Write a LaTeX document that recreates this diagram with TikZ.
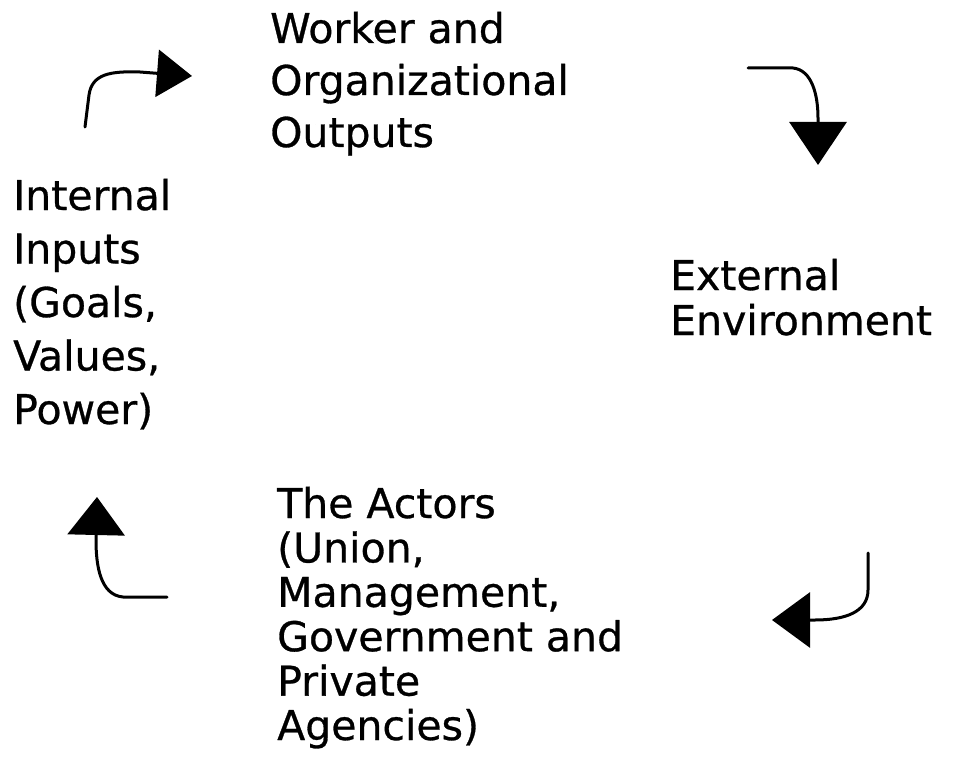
\documentclass[tikz,border=0pt]{standalone}
\usepackage{fontspec}
\setmainfont{DejaVu Sans}[FakeBold=0.7]
\usetikzlibrary{arrows.meta}
\tikzset{
  lbl/.style={anchor=base west, align=left, inner sep=0pt},
  curvearrow/.style={line width=3pt, line cap=round, line join=round},
}
\begin{document}
\begin{tikzpicture}[x=1pt,y=-1pt]
\useasboundingbox (0,0) rectangle (953,770);
\node[lbl, font=\fontsize{41}{52}\selectfont] (outputs) at (270,147) {Worker and\\Organizational\\Outputs};
\node[lbl, font=\fontsize{41}{53.5}\selectfont] (inputs) at (13,424) {Internal\\Inputs\\(Goals,\\Values,\\Power)};
\node[lbl, font=\fontsize{41}{45}\selectfont] (env) at (670,335) {External\\Environment};
\node[lbl, font=\fontsize{41}{44.4}\selectfont] (actors) at (277,740) {The Actors\\(Union,\\Management,\\Government and\\Private\\Agencies)};
% arrows
\coordinate (a1s) at (85,127); \coordinate (a1t) at (192,76);
\draw[curvearrow, -{Triangle[width=47pt,length=35pt]}] (a1s) -- (89,95) .. controls (92,74) and (110,71) .. (140,72) -- (a1t);
\coordinate (a2s) at (748,68); \coordinate (a2t) at (818,165);
\draw[curvearrow, -{Triangle[width=57pt,length=43pt]}] (a2s) -- (793,68) .. controls (812,70) and (818,95) .. (818,118) -- (a2t);
\coordinate (a3s) at (868,553); \coordinate (a3t) at (772,620);
\draw[curvearrow, -{Triangle[width=55pt,length=38pt]}] (a3s) -- (868,590) .. controls (868,612) and (845,620) .. (815,620) -- (a3t);
\coordinate (a4s) at (167,597); \coordinate (a4t) at (97,497);
\draw[curvearrow, -{Triangle[width=57pt,length=38pt]}] (a4s) -- (123,597) .. controls (100,595) and (96,565) .. (96,540) -- (a4t);
\end{tikzpicture}
\end{document}
